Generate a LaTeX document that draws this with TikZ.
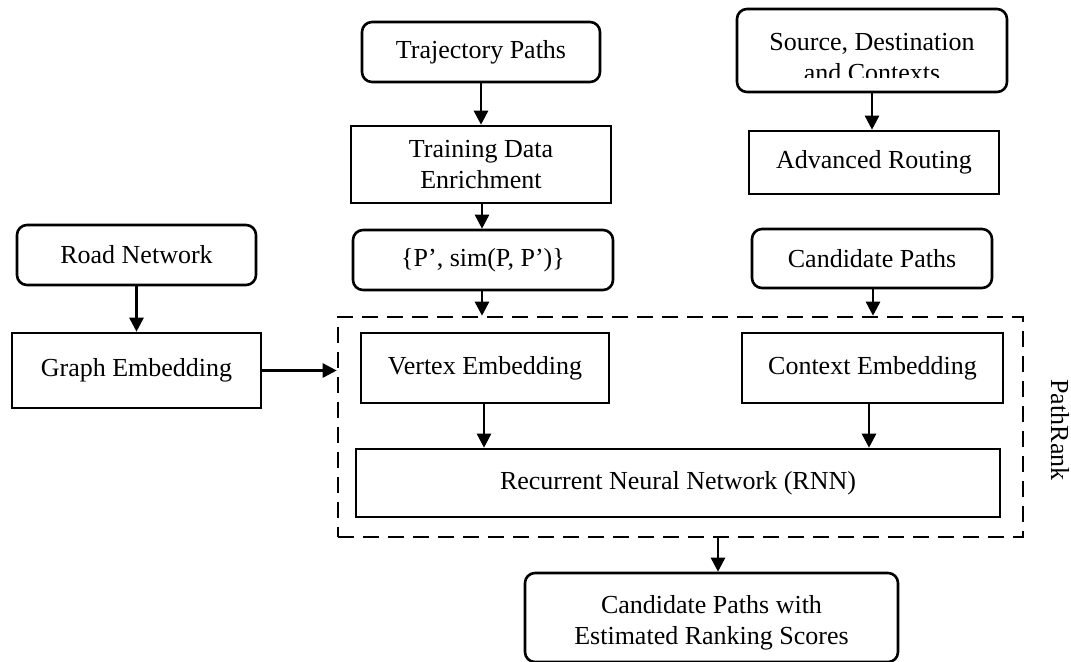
\documentclass[tikz,border=0pt]{standalone}
\usepackage{fontspec}
\setmainfont{Liberation Serif}
\usetikzlibrary{arrows.meta}
\begin{document}
\begin{tikzpicture}[x=0.5pt,y=-0.5pt,
  every node/.style={font=\fontsize{13}{15.5}\selectfont, inner sep=0pt, align=center},
  sqbox/.style={draw, line width=1.3pt},
  rbox/.style={draw, line width=1.3pt, rounded corners=5pt},
  link/.style={line width=1.3pt, -{Triangle[length=7pt,width=7pt]}},
  group/.style={draw, line width=1.3pt, dash pattern=on 8pt off 4.5pt}]
\useasboundingbox (0,0) rectangle (1071,661);

% input column: trajectories
\node[rbox, minimum width=119pt, minimum height=30pt] (traj) at (481,52) {Trajectory Paths};
\node[sqbox, minimum width=130pt, minimum height=38.5pt] (train) at (481,164.5) {Training Data\\Enrichment};
\node[rbox, minimum width=130pt, minimum height=30pt] (pp) at (483,260) {\{P’, sim(P, P’)\}};

% input column: routing queries
\node[rbox, minimum width=135pt, minimum height=41.5pt] (source) at (872,50.5) {};
\begin{scope}
  \clip (737,0) rectangle (1007,77.5);
  \node (sourcetext) at (872,58) {Source, Destination\\and Contexts};
\end{scope}
\node[sqbox, minimum width=125pt, minimum height=31.5pt] (adv) at (874,162.5) {Advanced Routing};
\node[rbox, minimum width=120pt, minimum height=29.5pt] (cand) at (872,258.5) {Candidate Paths};

% road network
\node[rbox, minimum width=119.5pt, minimum height=30pt] (road) at (136.5,255) {Road Network};
\node[sqbox, minimum width=124.5pt, minimum height=37.5pt] (graph) at (136.5,370.5) {Graph Embedding};

% PathRank model
\node[group, minimum width=342.5pt, minimum height=110pt] (pr) at (680.5,427) {};
\node[rotate=-90] (prlabel) at (1060,430) {PathRank};
\node[sqbox, minimum width=124pt, minimum height=35pt] (vertex) at (485,368) {Vertex Embedding};
\node[sqbox, minimum width=130.5pt, minimum height=35pt] (context) at (872.5,368) {Context Embedding};
\node[sqbox, minimum width=322pt, minimum height=34pt] (rnn) at (678,483) {Recurrent Neural Network (RNN)};

% output
\node[rbox, minimum width=186.5pt, minimum height=44.5pt] (out) at (711.5,617.5) {};
\node (outtext) at (711.5,623) {Candidate Paths with\\Estimated Ranking Scores};

% connectors
\draw[link] (traj) -- (train);
\draw[link] ([xshift=0.5pt]train.south) -- ([xshift=0.5pt]pp.north -| train.south);
\draw[link] ([xshift=-0.5pt]pp.south) -- ([xshift=-0.5pt]pp.south |- pr.north);
\draw[link] (source) -- (source.south |- adv.north);
\draw[link] ([xshift=0.5pt]cand.south) -- ([xshift=0.5pt]cand.south |- pr.north);
\draw[link] (road) -- (graph);
\draw[link] (graph.east) -- (graph.east -| pr.west);
\draw[link] ([xshift=-0.5pt]vertex.south) -- ([xshift=-0.5pt]vertex.south |- rnn.north);
\draw[link] ([xshift=-1.75pt]context.south) -- ([xshift=-1.75pt]context.south |- rnn.north);
\coordinate (prout) at (718,537);
\draw[link] (prout) -- (prout |- out.north);
\end{tikzpicture}
\end{document}
